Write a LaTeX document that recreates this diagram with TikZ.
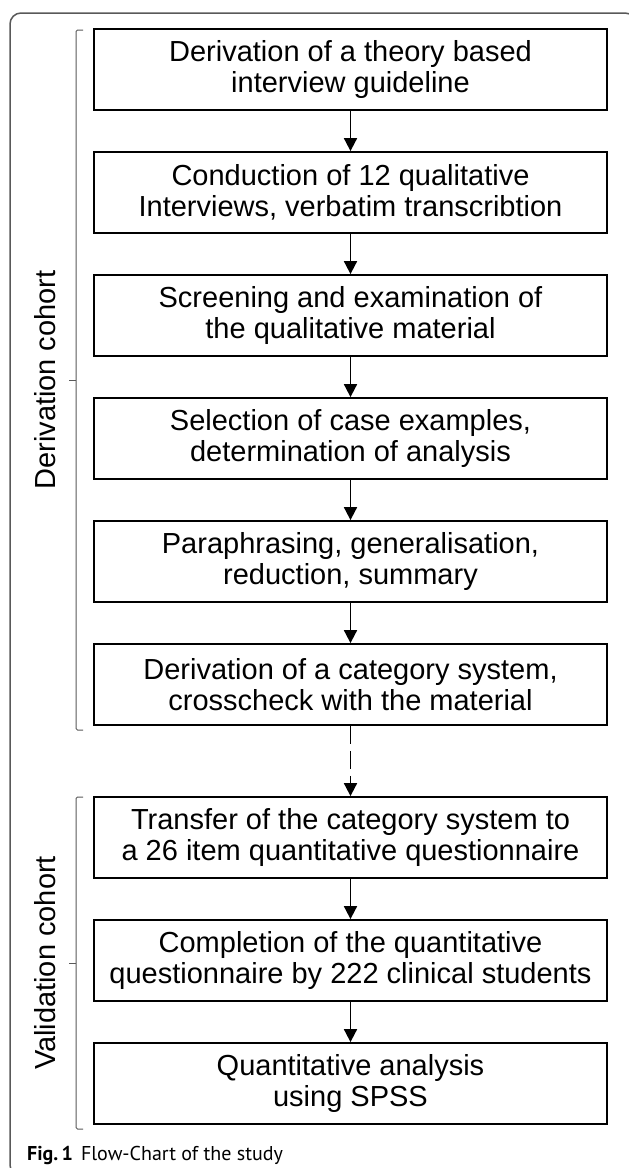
\documentclass[tikz,border=0pt]{standalone}
\usepackage{fontspec}
\setmainfont{Liberation Sans}
\newfontfamily\capfont{PT Sans}
\usetikzlibrary{arrows.meta}
\begin{document}
\begin{tikzpicture}[x=1pt,y=-1pt,
  stepbox/.style={draw=black, line width=1.8pt, minimum width=513pt, minimum height=81pt,
    inner sep=0pt, align=center, font=\fontsize{29}{30.5}\selectfont},
  flow/.style={line width=1.8pt, -{Triangle[length=13pt,width=13pt]}},
  flowdash/.style={flow, dash pattern=on 18pt off 7pt},
  brace/.style={draw=black!65, line width=1pt, rounded corners=1.5pt},
  frame/.style={draw=black!65, line width=1.5pt, rounded corners=11pt},
  cohort/.style={rotate=90, font=\fontsize{29}{32}\selectfont, inner sep=0pt}]
\useasboundingbox (0,0) rectangle (629,1168);
\begin{scope}
\clip (0,0) rectangle (629,1168);
\draw[frame] (10,13) rectangle (636,1176);
\end{scope}

\node[stepbox] (b1) at (350.5,69.5) {Derivation of a theory based\\interview guideline};
\node[stepbox] (b2) at (350.5,192.5) {Conduction of 12 qualitative\\Interviews, verbatim transcribtion};
\node[stepbox] (b3) at (350.5,315.5) {Screening and examination of\\the qualitative material};
\node[stepbox] (b4) at (350.5,438.5) {Selection of case examples,\\determination of analysis};
\node[stepbox] (b5) at (350.5,561.5) {Paraphrasing, generalisation,\\reduction, summary};
\node[stepbox] (b6) at (350.5,684.5) {Derivation of a category system,\\crosscheck with the material};
\node[stepbox] (b7) at (350.5,837.5) {Transfer of the category system to\\a 26 item quantitative questionnaire};
\node[stepbox] (b8) at (350.5,960.5) {Completion of the quantitative\\questionnaire by 222 clinical students};
\node[stepbox] (b9) at (350.5,1083.5) {Quantitative analysis\\using SPSS};

\draw[flow] (b1) -- (b2);
\draw[flow] (b2) -- (b3);
\draw[flow] (b3) -- (b4);
\draw[flow] (b4) -- (b5);
\draw[flow] (b5) -- (b6);
\draw[flowdash] (b6) -- (b7);
\draw[flow] (b7) -- (b8);
\draw[flow] (b8) -- (b9);

% brackets
\draw[brace] (83,30) -- (76,30) -- (76,730) -- (83,730);
\draw[brace] (76,380) -- (69,380);
\draw[brace] (83,797) -- (76,797) -- (76,1129) -- (83,1129);
\draw[brace] (76,963) -- (69,963);

\node[cohort] (dc) at (45,380) {Derivation cohort};
\node[cohort] (vc) at (45,963) {Validation cohort};

\node[anchor=base west, inner sep=0pt, font=\capfont\fontsize{20}{24}\selectfont] (cap) at (27,1160)
  {\textbf{Fig.\,1}\hspace{8pt}Flow-Chart of the study};
\end{tikzpicture}
\end{document}
